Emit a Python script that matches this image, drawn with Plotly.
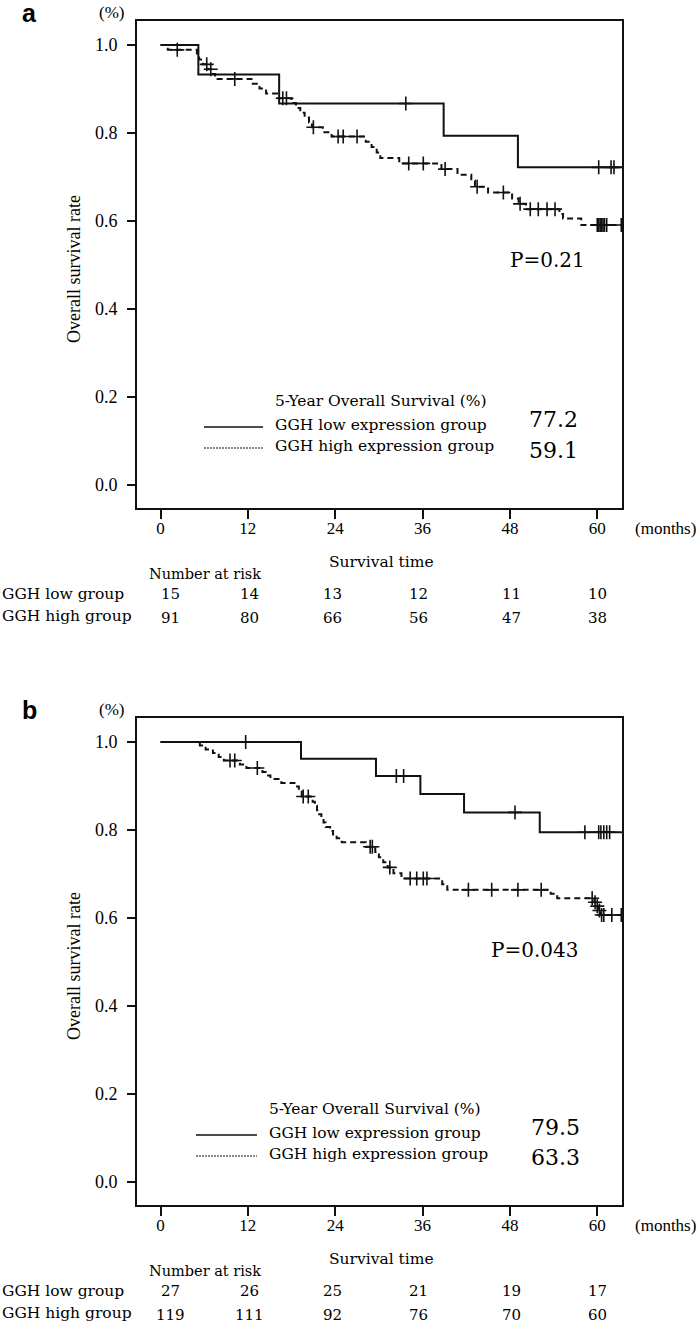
import plotly.graph_objects as go

W, H = 698, 1328

month_ticks = [0, 12, 24, 36, 48, 60]
rate_ticks = [0.0, 0.2, 0.4, 0.6, 0.8, 1.0]

# ---- panel a : Kaplan-Meier steps (time in months, survival) ----
a_low_t = [0, 5.2, 16.3, 38.9, 49.1, 63.5]
a_low_s = [1.0, 0.933, 0.867, 0.794, 0.722, 0.722]
a_low_cens_t = [33.7, 60.2, 61.9, 62.3]
a_low_cens_s = [0.867, 0.722, 0.722, 0.722]

a_high_t = [0, 1.0, 5.0, 5.3, 5.8, 6.5, 7.0, 7.5, 12.5, 13.6, 14.5, 16.0, 18.0, 18.6,
            19.2, 19.8, 20.4, 20.8, 22.3, 23.5, 28.2, 29.0, 29.7, 30.2, 32.8, 38.6,
            40.8, 42.7, 43.2, 45.0, 48.3, 49.2, 50.2, 54.8, 55.3, 57.8, 63.5]
a_high_s = [1.0, 0.989, 0.978, 0.967, 0.956, 0.945, 0.934, 0.923, 0.912, 0.901, 0.890,
            0.879, 0.868, 0.857, 0.846, 0.835, 0.824, 0.813, 0.802, 0.792, 0.780, 0.768,
            0.756, 0.743, 0.731, 0.718, 0.705, 0.692, 0.678, 0.665, 0.651, 0.639, 0.627,
            0.616, 0.606, 0.591, 0.591]
a_high_cens_t = [2.3, 6.35, 6.9, 10.2, 16.8, 17.3, 21.0, 24.4, 25.1, 27.0, 34.1, 36.1,
                 39.1, 43.5, 47.1, 49.4, 50.8, 51.9, 53.1, 54.2, 60.0, 60.2, 60.4,
                 60.6, 60.8, 61.0, 61.3, 63.3]
a_high_cens_s = [0.989, 0.956, 0.945, 0.923, 0.879, 0.879, 0.813, 0.792, 0.792, 0.792,
                 0.731, 0.731, 0.718, 0.678, 0.665, 0.639, 0.627, 0.627, 0.627, 0.627,
                 0.591, 0.591, 0.591, 0.591, 0.591, 0.591, 0.591, 0.591]

# ---- panel b ----
b_low_t = [0, 19.3, 29.6, 35.7, 41.7, 52.1, 63.5]
b_low_s = [1.0, 0.962, 0.923, 0.882, 0.840, 0.795, 0.795]
b_low_cens_t = [11.7, 32.4, 33.4, 48.7, 58.3, 60.2, 60.5, 60.9, 61.3, 61.7]
b_low_cens_s = [1.0, 0.923, 0.923, 0.840, 0.795, 0.795, 0.795, 0.795, 0.795, 0.795]

b_high_t = [0, 5.4, 6.2, 7.2, 8.0, 8.7, 10.9, 11.8, 14.0, 14.6, 15.1, 16.6, 18.4, 19.0,
            19.4, 20.9, 21.2, 21.5, 21.8, 22.1, 22.4, 22.7, 23.3, 23.7, 24.2, 24.9,
            28.2, 29.5, 30.0, 30.6, 31.2, 32.0, 33.1, 38.7, 39.4, 53.6, 54.5, 59.6,
            59.9, 60.2, 60.5, 63.5]
b_high_s = [1.0, 0.992, 0.983, 0.975, 0.966, 0.958, 0.949, 0.941, 0.932, 0.924, 0.916,
            0.907, 0.899, 0.890, 0.876, 0.864, 0.855, 0.845, 0.836, 0.826, 0.817, 0.807,
            0.798, 0.790, 0.781, 0.772, 0.762, 0.750, 0.738, 0.727, 0.715, 0.702, 0.690,
            0.677, 0.664, 0.655, 0.645, 0.636, 0.627, 0.617, 0.607, 0.607]
b_high_cens_t = [9.55, 10.2, 13.3, 19.6, 20.3, 28.8, 29.1, 31.5, 34.3, 35.2, 36.1, 36.6,
                 42.3, 45.5, 49.1, 52.3, 59.3, 59.7, 60.0, 60.3, 60.6, 60.9, 62.0, 63.3]
b_high_cens_s = [0.958, 0.958, 0.941, 0.876, 0.876, 0.762, 0.762, 0.715, 0.690, 0.690,
                 0.690, 0.690, 0.664, 0.664, 0.664, 0.664, 0.645, 0.636, 0.627, 0.617,
                 0.607, 0.607, 0.607, 0.607]

# numbers at risk
risk_a_low = [15, 14, 13, 12, 11, 10]
risk_a_high = [91, 80, 66, 56, 47, 38]
risk_b_low = [27, 26, 25, 21, 19, 17]
risk_b_high = [119, 111, 92, 76, 70, 60]

os5_a = ["77.2", "59.1"]
os5_b = ["79.5", "63.3"]
p_a = "P=0.21"
p_b = "P=0.043"

INK = "#111111"
TXT = "#000000"
SERIF = "Liberation Serif"
CENT = "DejaVu Serif"
PANEL_B_OFFSET = 697


def px(x):
    return x / W


def py(y):
    return 1 - y / H


fig = go.Figure()


def add_panel(xa, ya, lt, ls, lct, lcs, ht, hs, hct, hcs):
    fig.add_trace(go.Scatter(x=lt, y=ls, mode="lines", line_shape="hv",
                             line=dict(color=INK, width=2), xaxis=xa, yaxis=ya))
    fig.add_trace(go.Scatter(x=ht, y=hs, mode="lines", line_shape="hv",
                             line=dict(color=INK, width=2, dash="6px,4px"),
                             xaxis=xa, yaxis=ya))
    for ct, cs in [(lct, lcs), (hct, hcs)]:
        fig.add_trace(go.Scatter(x=ct, y=cs, mode="markers",
                                 marker=dict(symbol="cross-thin", size=10,
                                             line=dict(color=INK, width=1.6)),
                                 xaxis=xa, yaxis=ya))


add_panel("x", "y", a_low_t, a_low_s, a_low_cens_t, a_low_cens_s,
          a_high_t, a_high_s, a_high_cens_t, a_high_cens_s)
add_panel("x2", "y2", b_low_t, b_low_s, b_low_cens_t, b_low_cens_s,
          b_high_t, b_high_s, b_high_cens_t, b_high_cens_s)

xax = dict(range=[-3.23, 63.4], tickvals=month_ticks, ticks="outside", ticklen=9,
           tickwidth=2, tickcolor=INK, showline=True, mirror=True, linewidth=2,
           linecolor=INK, showgrid=False, zeroline=False, ticklabelstandoff=-5,
           tickfont=dict(family=SERIF, size=17, color=TXT))
yax = dict(range=[-0.052, 1.0545], tickvals=rate_ticks, tickformat=".1f",
           ticks="outside", ticklen=8, tickwidth=2, tickcolor=INK, showline=True,
           mirror=True, linewidth=2, linecolor=INK, showgrid=False, zeroline=False,
           ticklabelstandoff=6, tickfont=dict(family=SERIF, size=18, color=TXT))

fig.update_layout(
    width=W, height=H, margin=dict(l=0, r=0, t=0, b=0),
    paper_bgcolor="white", plot_bgcolor="white", showlegend=False,
    xaxis=dict(xax, domain=[px(137), px(622)], anchor="y"),
    yaxis=dict(yax, domain=[py(508), py(21)], anchor="x"),
    xaxis2=dict(xax, domain=[px(137), px(622)], anchor="y2"),
    yaxis2=dict(yax, domain=[py(508 + PANEL_B_OFFSET), py(21 + PANEL_B_OFFSET)],
                anchor="x2"),
)

ann = []
shapes = []


def txt(x, y, s, size, family=CENT, anchor="left", angle=0, bold=False):
    ann.append(dict(x=px(x), y=py(y), xref="paper", yref="paper", text=s,
                    showarrow=False, xanchor=anchor, yanchor="middle", textangle=angle,
                    font=dict(family=family, size=size, color=TXT,
                              weight="bold" if bold else "normal")))


risk_shift = [10, 2, -3, -4, 2, 0]


def panel_text(off, tag, xa, low, high, os5, pval, leg, pv_xy):
    txt(20, 13 + off, tag, 25, family="Liberation Sans", bold=True)
    txt(97, 12 + off, "(%)", 17, family=SERIF)
    txt(74, 269 + off, "Overall survival rate", 18, family=SERIF, anchor="center", angle=-90)
    txt(698, 528 + off, "(months)", 17, family=SERIF, anchor="right")
    txt(381, 562 + off, "Survival time", 15.5, anchor="center")
    txt(147, 574 + off, "Number at risk", 14.5)
    txt(0, 594 + off, "GGH low group", 15.5)
    txt(0, 616 + off, "GGH high group", 15.5)
    for i, m in enumerate(month_ticks):
        for row, yy in [(low, 594), (high, 618)]:
            ann.append(dict(x=m, y=py(yy + off), xref=xa, yref="paper", text=str(row[i]),
                            showarrow=False, xanchor="center", yanchor="middle",
                            xshift=risk_shift[i],
                            font=dict(family=CENT, size=15, color=TXT)))
    lx0, lx1, tx, y_title, y1, y2, nx, ny1, ny2 = leg
    txt(tx, y_title + off, "5-Year Overall Survival (%)", 15.5)
    txt(tx, y1 + off, "GGH low expression group", 15.5)
    txt(tx, y2 + off, "GGH high expression group", 15.5)
    txt(nx, ny1 + off, os5[0], 22)
    txt(nx, ny2 + off, os5[1], 22)
    shapes.append(dict(type="line", xref="paper", yref="paper", x0=px(lx0), x1=px(lx1),
                       y0=py(y1 + 2 + off), y1=py(y1 + 2 + off),
                       line=dict(color=INK, width=1.3)))
    shapes.append(dict(type="line", xref="paper", yref="paper", x0=px(lx0), x1=px(lx1),
                       y0=py(y2 + 2 + off), y1=py(y2 + 2 + off),
                       line=dict(color=INK, width=1, dash="2px,1px")))
    txt(pv_xy[0], pv_xy[1] + off, pval, 20)


panel_text(0, "a", "x", risk_a_low, risk_a_high, os5_a, p_a,
           (204, 263, 273, 401, 425, 446, 527, 420, 450), (508, 260))
panel_text(PANEL_B_OFFSET, "b", "x2", risk_b_low, risk_b_high, os5_b, p_b,
           (196, 257, 267, 412, 436, 457, 529, 430, 460), (489, 253))

fig.update_layout(annotations=ann, shapes=shapes)
fig.write_html("out.html", config={"displayModeBar": False},
               post_script="document.body.style.margin='0';"
               "document.body.style.overflow='hidden';")
